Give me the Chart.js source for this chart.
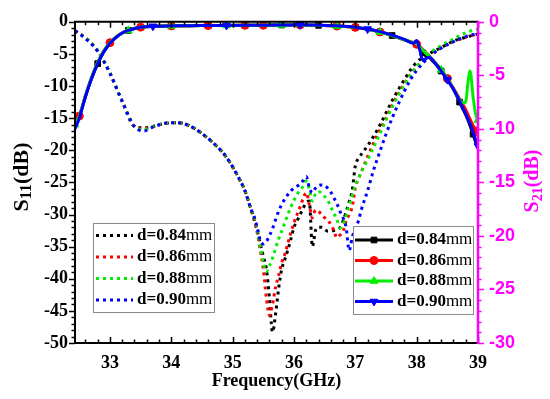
<!DOCTYPE html>
<html><head><meta charset="utf-8">
<script src="https://cdn.jsdelivr.net/npm/chart.js@4/dist/chart.umd.min.js"></script>
<style>html,body{margin:0;padding:0;background:#fff;}#wrap{width:550px;height:399px;}</style>
</head><body><div id="wrap"><canvas id="c" width="550" height="399"></canvas></div>
<script>
// ---------- data ----------
const seriesLabels = ['d=0.84mm', 'd=0.86mm', 'd=0.88mm', 'd=0.90mm'];
const xTickValues = [33, 34, 35, 36, 37, 38, 39];
const leftTickValues = [0, -5, -10, -15, -20, -25, -30, -35, -40, -45, -50];
const rightTickValues = [0, -5, -10, -15, -20, -25, -30];

// S11 (dotted, left axis)
const freqS11 = [32.43, 32.6, 32.8, 33.0, 33.2, 33.4, 33.55, 33.7, 33.9, 34.1, 34.3, 34.5, 34.7, 34.9, 35.1, 35.2, 35.3,
  35.35, 35.4, 35.45, 35.5, 35.55, 35.6, 35.65, 35.7, 35.75, 35.8, 35.85, 35.9, 35.95, 36.0, 36.05, 36.1, 36.15, 36.2,
  36.25, 36.3, 36.35, 36.4, 36.45, 36.5, 36.55, 36.6, 36.65, 36.7, 36.75, 36.8, 36.85, 36.9, 36.95, 37.0, 37.05, 37.1,
  37.2, 37.3, 37.4, 37.5, 37.6, 37.7, 37.8, 37.9, 38.0, 38.2, 38.4, 38.6, 38.8, 39.0];
const s11_084 = [-1.4, -2.5, -4.5, -8.0, -12.4, -16.3, -16.5, -16.3, -15.8, -15.7, -16.2, -17.4, -19.0, -21.1, -24.3, -26.3, -29.2,
  -30.8, -32.5, -34.5, -36.5, -38.5, -43.0, -48.3, -45.5, -41.5, -38.5, -37.0, -35.5, -33.8, -32.0, -31.0, -30.0, -29.0, -28.2,
  -27.9, -35.0, -32.5, -32.0, -32.0, -32.3, -32.6, -32.6, -32.5, -32.3, -32.0, -31.0, -29.6, -28.0, -26.2, -22.4, -21.3, -20.6,
  -19.3, -17.8, -16.1, -14.2, -12.3, -10.6, -9.0, -7.5, -6.3, -5.0, -4.0, -3.0, -2.4, -1.9];
const s11_086 = [-1.4, -2.5, -4.5, -8.0, -12.4, -16.3, -16.7, -16.3, -15.8, -15.7, -16.2, -17.4, -19.0, -21.1, -24.3, -26.3, -29.2,
  -30.8, -32.8, -35.5, -38.5, -43.0, -45.7, -44.0, -41.3, -39.5, -37.5, -36.2, -34.5, -32.8, -31.3, -30.0, -28.8, -27.5, -26.6,
  -28.5, -30.5, -29.3, -29.5, -30.0, -30.5, -31.0, -31.5, -32.5, -33.6, -33.2, -32.6, -31.0, -30.0, -28.8, -25.8, -24.5, -23.3,
  -21.0, -18.8, -16.8, -15.0, -13.0, -11.2, -9.6, -8.2, -7.0, -5.3, -4.0, -3.1, -2.4, -1.9];
const s11_088 = [-1.4, -2.5, -4.5, -8.0, -12.4, -16.3, -16.8, -16.3, -15.8, -15.7, -16.2, -17.4, -19.0, -21.1, -24.3, -26.3, -29.2,
  -30.5, -32.3, -35.0, -37.5, -38.9, -38.0, -36.8, -35.3, -33.8, -32.6, -31.3, -30.0, -28.8, -27.8, -26.9, -26.2, -25.6, -24.8,
  -26.0, -27.9, -26.8, -26.4, -26.7, -27.2, -27.8, -28.8, -29.8, -30.8, -32.1, -31.5, -30.2, -28.5, -27.0, -25.5, -24.3, -23.3,
  -21.5, -19.5, -17.4, -15.3, -13.3, -11.5, -9.8, -8.2, -7.0, -5.0, -3.7, -2.7, -1.7, -1.1];
const s11_090 = [-1.4, -2.6, -4.6, -8.0, -12.4, -16.3, -17.0, -16.4, -15.8, -15.7, -16.2, -17.4, -19.0, -21.1, -24.3, -26.3, -29.2,
  -30.3, -32.0, -34.0, -34.6, -34.2, -33.3, -32.2, -30.8, -29.5, -28.4, -27.6, -26.9, -26.3, -25.9, -25.6, -25.3, -24.7, -24.1,
  -25.8, -26.6, -25.9, -25.5, -25.4, -25.5, -25.9, -26.5, -27.4, -28.3, -29.5, -30.5, -32.0, -35.6, -33.5, -32.2, -31.0, -29.2,
  -26.3, -23.0, -20.2, -17.5, -15.0, -12.8, -10.8, -9.0, -7.6, -5.5, -4.1, -3.1, -2.3, -1.8];

// S21 (solid with markers, right axis)
const freqS21 = [32.43, 32.5, 32.6, 32.7, 32.8, 32.9, 33.0, 33.1, 33.2, 33.3, 33.4, 33.5, 33.7, 34.0, 34.3, 34.6, 34.9,
  35.2, 35.5, 35.8, 36.1, 36.4, 36.7, 37.0, 37.2, 37.4, 37.6, 37.8, 37.95, 38.0, 38.05, 38.1, 38.2, 38.3, 38.4, 38.5,
  38.6, 38.7, 38.75, 38.8, 38.83, 38.87, 38.92, 38.96, 39.0];
const s21_084 = [-9.8, -8.9, -7.0, -5.3, -3.9, -2.8, -2.0, -1.45, -1.05, -0.8, -0.62, -0.5, -0.42, -0.38, -0.36, -0.35, -0.34,
  -0.33, -0.32, -0.3, -0.29, -0.33, -0.4, -0.52, -0.7, -0.95, -1.28, -1.68, -1.95, -1.8, -2.5, -2.9, -3.3, -3.9, -4.6, -5.4,
  -6.3, -7.5, -8.1, -8.7, -9.1, -9.7, -10.5, -11.2, -11.8];
const s21_086 = [-9.6, -8.8, -6.9, -5.2, -3.8, -2.7, -1.95, -1.42, -1.03, -0.8, -0.62, -0.5, -0.42, -0.38, -0.36, -0.35, -0.34,
  -0.33, -0.32, -0.3, -0.29, -0.33, -0.4, -0.52, -0.7, -0.95, -1.28, -1.68, -1.95, -2.1, -2.3, -2.6, -3.2, -3.8, -4.5, -5.3,
  -6.2, -7.2, -7.7, -8.2, -8.6, -9.1, -9.7, -10.2, -10.6];
const s21_088 = [-9.6, -8.8, -6.9, -5.2, -3.8, -2.7, -1.95, -1.42, -1.03, -0.8, -0.62, -0.5, -0.42, -0.38, -0.36, -0.35, -0.34,
  -0.33, -0.32, -0.3, -0.29, -0.33, -0.4, -0.52, -0.7, -0.95, -1.28, -1.68, -1.95, -2.05, -2.35, -2.65, -3.2, -3.8, -4.5, -5.3,
  -6.3, -7.3, -7.55, -7.5, -6.0, -4.6, -7.0, -8.6, -9.2];
const s21_090 = [-10.0, -9.0, -7.0, -5.3, -3.9, -2.8, -2.0, -1.45, -1.05, -0.8, -0.62, -0.5, -0.42, -0.38, -0.36, -0.35, -0.34,
  -0.33, -0.32, -0.3, -0.28, -0.32, -0.38, -0.5, -0.68, -0.92, -1.25, -1.65, -2.0, -1.75, -2.6, -3.6, -3.3, -3.85, -4.6, -5.4,
  -6.3, -7.4, -8.0, -8.6, -9.0, -9.5, -10.3, -11.0, -11.6];

// ---------- styles ----------
const colors = ['#000000', '#ff0000', '#00ee00', '#0000ff'];
const markerStyles = ['rect', 'circle', 'triangle', 'triangle'];
const markerRot = [0, 0, 0, 180];
const markerRadius = [4, 4, 4.5, 4.5];
// which points of each S21 line carry a symbol
const markerIdx = [
  [4, 9, 13, 15, 17, 19, 21, 23, 26, 31, 34, 37, 42],
  [1, 6, 11, 13, 15, 17, 18, 20, 22, 23, 25, 29, 35, 43],
  [0, 9, 13, 16, 19, 22, 25, 34, 44],
  [12, 16, 20, 24, 35, 44]
];
const MAGENTA = '#ff00ff';
const SERIF = "'Liberation Serif', 'Times New Roman', serif";
const SANS = "'Liberation Sans', Arial, sans-serif";

const toPts = (xs, ys) => ys.map((v, i) => ({ x: xs[i], y: v }));
const s11Sets = [s11_084, s11_086, s11_088, s11_090];
const s21Sets = [s21_084, s21_086, s21_088, s21_090];

const datasets = [];
s21Sets.forEach((arr, k) => {
  datasets.push({
    label: seriesLabels[k], kind: 's21', data: toPts(freqS21, arr), yAxisID: 'y2',
    borderColor: colors[k], backgroundColor: colors[k], borderWidth: 3,
    pointStyle: markerStyles[k], pointRotation: markerRot[k],
    pointRadius: (c) => (markerIdx[k].includes(c.dataIndex) ? markerRadius[k] : 0),
    pointBorderWidth: 1, tension: 0.3, cubicInterpolationMode: 'monotone', order: 4 - k
  });
});
s11Sets.forEach((arr, k) => {
  datasets.push({
    label: seriesLabels[k], kind: 's11', data: toPts(freqS11, arr), yAxisID: 'y',
    borderColor: colors[k], backgroundColor: colors[k], borderWidth: 3, borderDash: [3, 4],
    pointRadius: 0, tension: 0.3, cubicInterpolationMode: 'monotone', order: 8 - k
  });
});

function drawRich(ctx, parts, x, y, rot, color) {
  ctx.save();
  ctx.translate(x, y);
  ctx.rotate(rot);
  let total = 0;
  parts.forEach(p => { ctx.font = p.font; p.w = ctx.measureText(p.t).width; total += p.w; });
  let cx = -total / 2;
  ctx.textBaseline = 'middle';
  ctx.textAlign = 'left';
  ctx.fillStyle = color;
  parts.forEach(p => { ctx.font = p.font; ctx.fillText(p.t, cx, p.dy || 0); cx += p.w; });
  ctx.restore();
}

function drawLegend(ctx, chart, kind, box, rows, sx0, sx1, tx) {
  ctx.save();
  ctx.fillStyle = '#fff';
  ctx.fillRect(box[0], box[1], box[2] - box[0], box[3] - box[1]);
  ctx.strokeStyle = '#8a8a8a';
  ctx.lineWidth = 1;
  ctx.strokeRect(box[0] + 0.5, box[1] + 0.5, box[2] - box[0], box[3] - box[1]);
  const sets = chart.data.datasets.filter(d => d.kind === kind);
  sets.forEach((ds, k) => {
    const y = rows[k];
    ctx.strokeStyle = ds.borderColor;
    ctx.lineWidth = 3;
    ctx.setLineDash(kind === 's11' ? [3, 4] : []);
    ctx.beginPath(); ctx.moveTo(sx0, y); ctx.lineTo(sx1, y); ctx.stroke();
    ctx.setLineDash([]);
    if (kind === 's21') {
      ctx.fillStyle = ds.borderColor;
      ctx.strokeStyle = ds.borderColor;
      ctx.lineWidth = 1;
      Chart.helpers.drawPoint(ctx, { pointStyle: ds.pointStyle, rotation: ds.pointRotation, radius: markerRadius[k], borderWidth: 1 }, (sx0 + sx1) / 2, y);
    }
    ctx.fillStyle = '#000';
    ctx.textBaseline = 'middle';
    ctx.textAlign = 'left';
    const lab = ds.label;
    const main = lab.slice(0, lab.length - 2), unit = lab.slice(lab.length - 2);
    ctx.font = 'bold 17px ' + SERIF;
    ctx.fillText(main, tx, y);
    const w = ctx.measureText(main).width;
    ctx.font = '17px ' + SERIF;
    ctx.fillText(unit, tx + w, y);
  });
  ctx.restore();
}

function ticksOn(scale, step) {
  const out = [];
  const a = Math.ceil(scale.min / step - 1e-6), b = Math.floor(scale.max / step + 1e-6);
  for (let i = a; i <= b; i++) out.push(i * step);
  return out;
}

const decor = {
  id: 'decor',
  afterDatasetsDraw(chart) {
    const ctx = chart.ctx, a = chart.chartArea;
    const xs = chart.scales.x, yl = chart.scales.y, yr = chart.scales.y2;
    ctx.save();
    // x ticks (inside, top and bottom)
    ctx.strokeStyle = '#000'; ctx.lineWidth = 1.5;
    ticksOn(xs, 0.2).forEach(v => {
      const px = Math.round(xs.getPixelForValue(v)) + 0.5;
      const major = Math.abs(v - Math.round(v)) < 1e-6;
      const L = major ? 6 : 3.5;
      ctx.beginPath();
      ctx.moveTo(px, a.bottom); ctx.lineTo(px, a.bottom - L);
      ctx.moveTo(px, a.top); ctx.lineTo(px, a.top + L);
      ctx.stroke();
    });
    // left ticks (outside)
    ticksOn(yl, 1).forEach(v => {
      const py = Math.round(yl.getPixelForValue(v)) + 0.5;
      const L = (Math.round(v) % 5 === 0) ? 6 : 3.5;
      ctx.beginPath(); ctx.moveTo(a.left, py); ctx.lineTo(a.left - L, py); ctx.stroke();
    });
    // frame (black)
    ctx.lineWidth = 2;
    ctx.beginPath();
    ctx.moveTo(a.right, a.top); ctx.lineTo(a.left, a.top); ctx.lineTo(a.left, a.bottom); ctx.lineTo(a.right, a.bottom);
    ctx.stroke();
    // right axis (magenta)
    ctx.strokeStyle = MAGENTA; ctx.lineWidth = 1.5;
    ticksOn(yr, 1).forEach(v => {
      const py = Math.round(yr.getPixelForValue(v)) + 0.5;
      const L = (Math.round(v) % 5 === 0) ? 6 : 3.5;
      ctx.beginPath(); ctx.moveTo(a.right, py); ctx.lineTo(a.right + L, py); ctx.stroke();
    });
    ctx.lineWidth = 2.5;
    ctx.beginPath(); ctx.moveTo(a.right, a.top - 1); ctx.lineTo(a.right, a.bottom + 1); ctx.stroke();
    ctx.restore();

    // titles
    drawRich(ctx, [{ t: 'Frequency(GHz)', font: 'bold 18px ' + SERIF }], (a.left + a.right) / 2, 381, 0, '#000');
    drawRich(ctx, [
      { t: 'S', font: 'bold 22px ' + SERIF },
      { t: '11', font: 'bold 16px ' + SERIF, dy: 5 },
      { t: '(dB)', font: 'bold 22px ' + SERIF }], 22, 177, -Math.PI / 2, '#000');
    drawRich(ctx, [
      { t: 'S', font: 'bold 20px ' + SERIF },
      { t: '21', font: 'bold 14px ' + SERIF, dy: 5 },
      { t: '(dB)', font: 'bold 20px ' + SERIF }], 533, 181, -Math.PI / 2, MAGENTA);

    // legends
    drawLegend(ctx, chart, 's11', [93, 223, 214, 312], [235.5, 257, 278.5, 300], 96, 133, 137);
    drawLegend(ctx, chart, 's21', [353, 226, 473, 314], [240, 260.5, 281, 301.5], 355, 393, 397);
  }
};

Chart.defaults.font.family = SERIF;
new Chart(document.getElementById('c'), {
  type: 'line',
  data: { datasets },
  options: {
    responsive: false, animation: false, devicePixelRatio: 1,
    layout: { padding: { top: 19, left: 0, right: 0, bottom: 0 } },
    plugins: { legend: { display: false }, tooltip: { enabled: false } },
    scales: {
      x: {
        type: 'linear', min: 32.43, max: 39,
        afterBuildTicks: s => { s.ticks = xTickValues.map(v => ({ value: v })); },
        afterFit: s => { s.height = 56; },
        grid: { display: false, drawTicks: false }, border: { display: false },
        ticks: { color: '#000', font: { size: 18, weight: 'bold', family: SERIF }, padding: 10, maxRotation: 0, autoSkip: false }
      },
      y: {
        position: 'left', min: -50, max: 0,
        afterBuildTicks: s => { s.ticks = leftTickValues.map(v => ({ value: v })); },
        afterFit: s => { s.width = 75; },
        grid: { display: false, drawTicks: false }, border: { display: false },
        ticks: { color: '#000', font: { size: 18, weight: 'bold', family: SERIF }, padding: 7, autoSkip: false }
      },
      y2: {
        position: 'right', min: -30, max: 0,
        afterBuildTicks: s => { s.ticks = rightTickValues.map(v => ({ value: v })); },
        afterFit: s => { s.width = 72; },
        grid: { display: false, drawTicks: false }, border: { display: false },
        ticks: { color: MAGENTA, font: { size: 18, weight: 'bold', family: SANS }, padding: 11, autoSkip: false }
      }
    }
  },
  plugins: [decor]
});
</script>
</body></html>
